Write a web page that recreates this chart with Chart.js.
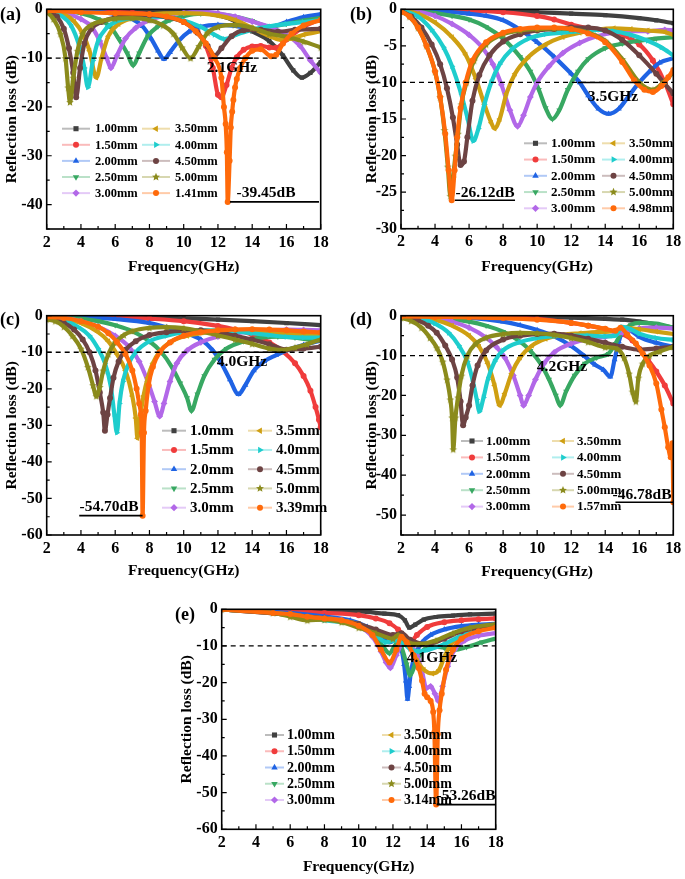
<!DOCTYPE html>
<html>
<head>
<meta charset="utf-8">
<script src="https://cdn.jsdelivr.net/npm/chart.js@4.4.0/dist/chart.umd.min.js"></script>
<style>
body{margin:0;background:#fff;width:685px;height:879px;position:relative;overflow:hidden}
canvas{position:absolute}
</style>
</head>
<body>
<canvas id="pa" width="340" height="290" style="left:0;top:0"></canvas>
<canvas id="pb" width="345" height="290" style="left:340px;top:0"></canvas>
<canvas id="pc" width="340" height="290" style="left:0;top:295px"></canvas>
<canvas id="pd" width="345" height="290" style="left:340px;top:295px"></canvas>
<canvas id="pe" width="345" height="289" style="left:170px;top:590px"></canvas>
<script>
// ---- data (frequency GHz, reflection loss dB) ----
const freqTicks = [2, 4, 6, 8, 10, 12, 14, 16, 18];
const yTicksA = [0, -10, -20, -30, -40];
const yTicksB = [0, -5, -10, -15, -20, -25, -30];
const yTicksC = [0, -10, -20, -30, -40, -50, -60];
const yTicksD = [0, -10, -20, -30, -40, -50];
const yTicksE = [0, -10, -20, -30, -40, -50, -60];

const labelsA = ['1.00mm','1.50mm','2.00mm','2.50mm','3.00mm','3.50mm','4.00mm','4.50mm','5.00mm','1.41mm'];
const labelsB = ['1.00mm','1.50mm','2.00mm','2.50mm','3.00mm','3.50mm','4.00mm','4.50mm','5.00mm','4.98mm'];
const labelsC = ['1.0mm','1.5mm','2.0mm','2.5mm','3.0mm','3.5mm','4.0mm','4.5mm','5.0mm','3.39mm'];
const labelsD = ['1.00mm','1.50mm','2.00mm','2.50mm','3.00mm','3.50mm','4.00mm','4.50mm','5.00mm','1.57mm'];
const labelsE = ['1.00mm','1.50mm','2.00mm','2.50mm','3.00mm','3.50mm','4.00mm','4.50mm','5.00mm','3.14mm'];

// panel (a)
const a100 = [[2,0],[4,-0.1],[6,-0.1],[8,-0.2],[10,-0.5],[11,-0.8],[12,-1.2],[13,-2.4],[14,-4.5],[15,-6.5],[15.8,-9.5],[16.4,-12.5],[16.9,-14],[17.4,-13],[18,-10.8]];
const a150 = [[2,0],[4,-0.2],[6,-0.5],[7,-0.7],[8,-1],[9,-1.5],[10,-2.6],[10.8,-4.5],[11.3,-7.5],[11.7,-12],[12,-17.5],[12.2,-18],[12.5,-15.5],[12.8,-12],[13.1,-9.8],[13.5,-8.3],[14,-7.6],[14.5,-7.5],[15,-7.8],[15.4,-7.9],[16,-6.2],[17,-3.6],[18,-2]];
const a200 = [[2,0],[4,-0.3],[5,-0.5],[6,-1],[7,-2],[7.6,-3.5],[8.1,-6],[8.5,-8.5],[8.85,-10.2],[9.2,-8.8],[9.7,-6.5],[10.3,-4.6],[11,-3.6],[12,-3.2],[13,-3.4],[14,-4],[15,-3.8],[16,-2.6],[17,-1.6],[18,-1]];
const a250 = [[2,-0.1],[3,-0.3],[4,-0.8],[5,-2],[5.7,-3.5],[6.2,-6],[6.7,-9],[7.05,-11.5],[7.4,-9],[7.9,-5.5],[8.5,-3.5],[9.2,-2.2],[10,-1.4],[11,-0.9],[12,-1],[13,-1.5],[14,-2.4],[15,-3.5],[16,-3],[17,-2.3],[18,-1.8]];
const a300 = [[2,-0.1],[3,-0.6],[4,-2],[4.6,-3.5],[5.1,-6.5],[5.5,-10],[5.75,-12],[6.1,-9.5],[6.6,-6],[7.2,-3.8],[8,-2.2],[9,-1.2],[10,-0.7],[11,-0.5],[12,-0.8],[13,-1.5],[14,-2.5],[15,-3.6],[16,-5.2],[16.8,-7.5],[17.4,-10.5],[18,-13]];
const a350 = [[2,-0.2],[3,-1],[3.6,-2.5],[4.1,-5],[4.5,-8.5],[4.9,-14],[5.2,-10],[5.6,-5.5],[6.2,-3],[7,-1.8],[8,-1.1],[10,-0.8],[12,-1.3],[13,-2.2],[14,-3.8],[15,-5.5],[15.6,-6.2],[16.3,-6],[17,-5.2],[18,-4.5]];
const a400 = [[2,-0.2],[2.8,-1.2],[3.4,-3.2],[3.9,-7.5],[4.2,-12],[4.4,-16],[4.7,-10.5],[5,-6.5],[5.5,-3.8],[6,-2.6],[7,-1.8],[8,-1.5],[9,-1.6],[10,-2.3],[11,-3.6],[11.8,-5.2],[12.4,-6.1],[13,-5.3],[14,-4.2],[15,-3.5],[16,-3],[17,-2.6],[18,-2.2]];
const a450 = [[2,-0.3],[2.6,-1.5],[3,-4],[3.3,-8],[3.55,-13],[3.72,-18],[3.95,-12],[4.2,-7],[4.6,-4],[5.2,-2.6],[6,-1.7],[7,-1.3],[8,-1.2],[9,-1.6],[10,-2.6],[10.8,-4.8],[11.4,-7.5],[11.8,-9.5],[12.2,-8],[12.8,-5.5],[13.5,-4.3],[14.5,-4.2],[15.5,-4.6],[16.5,-4.2],[18,-4]];
const a500 = [[2,-0.5],[2.4,-2],[2.8,-5],[3.1,-10],[3.25,-16],[3.36,-19],[3.55,-14],[3.8,-8.5],[4.1,-5],[4.6,-3.2],[5.2,-2.4],[6,-1.9],[7,-1.8],[8,-2.2],[8.8,-3.3],[9.4,-5],[9.9,-7.8],[10.4,-10],[10.9,-7.5],[11.4,-4.8],[12,-3.6],[13,-3.2],[14,-3.8],[15,-5],[16,-5.6],[17,-6.6],[18,-7.8]];
const a141 = [[2,-0.3],[4,-0.6],[6,-0.8],[8,-1],[9,-1.5],[10,-2.6],[10.7,-4.5],[11.3,-7],[11.8,-10],[12.2,-14],[12.35,-20],[12.45,-23.5],[12.52,-29.3],[12.57,-39.45],[12.68,-31],[12.75,-24.2],[12.83,-21],[12.9,-18.6],[13,-16],[13.1,-14.3],[13.3,-12],[13.6,-10],[14,-8.5],[14.5,-8.2],[15.1,-9.6],[15.4,-9.3],[15.8,-7],[16.3,-5],[17,-3.3],[18,-2.2]];

// panel (b)
const b100 = [[2,0],[6,-0.1],[8,-0.2],[10,-0.4],[12,-0.6],[14,-0.8],[16,-1.2],[17,-1.5],[18,-1.9]];
const b150 = [[2,0],[6,-0.2],[8,-0.4],[10,-0.9],[11,-1.4],[12,-2.1],[13,-2.6],[14,-2.9],[15,-3.5],[16,-4.8],[16.8,-7],[17.5,-10],[18,-13]];
const b200 = [[2,0],[4,-0.2],[6,-0.6],[7,-0.9],[8,-1.5],[9,-2.8],[10,-4.5],[11,-6.5],[12,-8.8],[12.5,-10],[13,-11.8],[13.6,-13.6],[14.2,-14.3],[14.8,-13.6],[15.4,-11.8],[16,-10],[16.6,-8.5],[17.2,-7.3],[18,-6.7]];
const b250 = [[2,0],[4,-0.5],[5,-0.9],[6,-1.4],[7,-2.4],[8,-4],[9,-6.5],[9.6,-8.5],[10.1,-11],[10.5,-13.5],[10.9,-15],[11.3,-13.8],[11.8,-11],[12.4,-8.5],[13,-6.8],[14,-5.3],[15,-4.7],[16,-4.3],[17,-4],[18,-3.8]];
const b300 = [[2,0],[3,-0.3],[4,-0.9],[5,-2],[6,-3.5],[6.8,-5.3],[7.4,-7.5],[7.9,-10.3],[8.4,-13.8],[8.85,-16],[9.2,-14.5],[9.6,-12],[10,-10],[10.7,-7.8],[11.5,-6],[12.5,-4.6],[13.5,-3.7],[14.5,-3.2],[15.5,-3],[16.5,-3],[17.5,-2.8],[18,-2.9]];
const b350 = [[2,0],[3,-0.6],[4,-1.8],[5,-3.8],[5.8,-6.2],[6.4,-9.5],[6.9,-13],[7.3,-15.5],[7.5,-16.3],[7.8,-15],[8.2,-11.5],[8.7,-8.8],[9.5,-6.5],[10.5,-4.8],[11.5,-3.8],[12.5,-3.2],[13.5,-2.8],[14.5,-2.6],[15.5,-2.7],[16.5,-2.9],[17.5,-3.1],[18,-3.5]];
const b400 = [[2,-0.1],[3,-1],[3.8,-2.8],[4.5,-5.2],[5,-7.8],[5.5,-11.3],[5.9,-14.8],[6.25,-18],[6.55,-16.3],[6.9,-13],[7.3,-10],[7.8,-7.5],[8.5,-5.5],[9.5,-4],[10.5,-3.4],[11.5,-3.2],[12.5,-3],[13.5,-2.8],[14.5,-3],[15.5,-3.5],[16.5,-4.3],[17.3,-5.2],[18,-6.3]];
const b450 = [[2,-0.2],[2.6,-1],[3.2,-2.5],[3.8,-4.8],[4.3,-7.5],[4.7,-10.8],[5.05,-14.8],[5.3,-18.5],[5.5,-21.3],[5.7,-20.8],[5.9,-17.5],[6.2,-12.5],[6.6,-9],[7.2,-6.3],[8,-4.4],[9,-3.4],[10,-2.9],[11,-2.7],[12,-2.5],[13,-2.5],[14,-2.9],[15,-4.2],[16,-6.3],[17,-8.8],[17.5,-10.2],[18,-11.5]];
const b500 = [[2,-0.3],[2.5,-1],[3,-2.5],[3.5,-5],[4,-8.5],[4.3,-12],[4.55,-16.5],[4.75,-21.5],[4.9,-25.5],[5.05,-23],[5.2,-20],[5.35,-17],[5.55,-13],[5.85,-10],[6.3,-7],[7,-4.8],[8,-3.4],[9,-2.9],[10,-2.7],[11,-2.6],[12,-2.7],[13,-3.2],[14,-4.3],[15,-6.8],[16,-10],[16.8,-11],[17.5,-9.8],[18,-8.6]];
const b498 = [[2,-0.3],[2.5,-1],[3,-2.5],[3.5,-5],[4,-8.5],[4.3,-12],[4.6,-17],[4.8,-22],[4.98,-26.12],[5.15,-22],[5.3,-17.5],[5.5,-13.5],[5.8,-10],[6.2,-7],[7,-4.5],[8,-3.2],[9,-2.7],[10,-2.5],[11,-2.5],[12,-2.7],[13,-3.3],[14,-4.5],[15,-7.2],[15.7,-9.7],[16.3,-11],[16.8,-11.3],[17.3,-10.5],[17.7,-9.3],[18,-8.3]];

// panel (c)
const c100 = [[2,0],[6,-0.2],[8,-0.4],[10,-0.7],[12,-1.1],[14,-1.5],[16,-2],[18,-2.6]];
const c150 = [[2,0],[6,-0.3],[8,-0.8],[10,-1.5],[12,-2.8],[13,-3.8],[14,-5.2],[15,-7.3],[15.8,-9.8],[16.5,-13],[17,-16.5],[17.4,-20.5],[17.7,-25],[17.9,-28.5],[18,-30.5]];
const c200 = [[2,0],[4,-0.3],[6,-0.9],[8,-2],[9,-3.2],[10,-4.6],[11,-6.5],[11.7,-9.5],[12.2,-13],[12.7,-17.5],[13.2,-21.5],[13.6,-19],[14.1,-15],[14.7,-12.5],[15.4,-10.8],[16,-9.5],[17,-8],[18,-6.8]];
const c250 = [[2,0],[3,-0.3],[4,-0.8],[5,-1.5],[6,-2.6],[7,-4.2],[8,-7],[8.7,-10],[9.3,-14],[9.8,-18.5],[10.2,-22.5],[10.45,-26],[10.8,-21.5],[11.2,-16.5],[11.8,-12],[12.5,-9],[13.5,-7],[14.5,-6],[15.5,-5.7],[16.5,-6],[17.3,-6.5],[18,-6.5]];
const c300 = [[2,-0.1],[3,-0.5],[4,-1.5],[5,-3],[6,-5.5],[6.8,-8.5],[7.4,-12.5],[7.9,-18],[8.3,-23.5],[8.6,-27.5],[8.85,-24],[9.2,-18],[9.6,-13],[10.2,-9.5],[11,-7.3],[12,-5.7],[13,-4.8],[14,-4.3],[15,-4],[16,-3.8],[17,-3.9],[18,-4]];
const c350 = [[2,-0.3],[3,-0.8],[4,-2],[5,-4.5],[5.6,-7],[6.1,-10.5],[6.6,-15],[7,-22],[7.2,-28],[7.3,-33.5],[7.45,-28],[7.65,-22],[7.9,-17],[8.2,-13],[8.6,-9.8],[9.3,-7],[10.2,-5.5],[11.5,-4.5],[13,-4.1],[14,-4.3],[15,-4.8],[16,-5],[17,-5],[18,-5]];
const c400 = [[2,-0.5],[3,-1.2],[3.8,-3],[4.5,-5.5],[5,-9],[5.4,-13],[5.75,-19.5],[5.95,-27],[6.1,-32],[6.25,-24],[6.45,-18],[6.8,-13],[7.2,-10],[8,-7],[9,-5.5],[10,-4.5],[11,-4],[12,-4],[13,-4.3],[14,-4.8],[15,-5.3],[16,-5.8],[17,-6],[18,-6]];
const c450 = [[2,-0.8],[3,-2],[3.6,-3.8],[4.1,-6.5],[4.5,-10],[4.85,-15],[5.1,-21],[5.3,-26.5],[5.4,-31.5],[5.55,-27],[5.7,-22.5],[5.9,-17],[6.2,-12.5],[6.6,-9.3],[7.2,-7],[8,-5.3],[9,-4.5],[10,-4.1],[11,-4],[12,-4.5],[13,-5.5],[14,-6.5],[15,-7.8],[16,-9.3],[17,-9],[18,-8.5]];
const c500 = [[2,-1],[2.5,-1.5],[3,-3],[3.5,-5.5],[4,-9],[4.4,-14],[4.7,-19],[4.9,-22],[5.1,-19.5],[5.3,-15],[5.6,-10.5],[6,-7.3],[6.5,-5.3],[7,-4.2],[8,-3.3],[9,-3.1],[10,-3.4],[11,-4.3],[12,-5.4],[13,-6.5],[14,-7.7],[15,-9],[15.7,-9.4],[16.5,-8.7],[17.2,-7.8],[18,-6.5]];
const c339 = [[2,-0.3],[3,-0.6],[4,-1.5],[5,-3],[5.6,-4.8],[6.1,-7.2],[6.6,-10.5],[7,-15],[7.25,-20],[7.4,-24],[7.5,-27],[7.55,-32],[7.6,-54.7],[7.68,-32],[7.78,-26],[7.95,-19],[8.2,-14],[8.6,-10],[9.2,-7.3],[10,-5.5],[11,-4.5],[12,-4],[13,-3.8],[14,-3.7],[15,-3.8],[16,-4],[17,-4.3],[18,-4.6]];

// panel (d)
const d100 = [[2,0],[6,-0.1],[8,-0.2],[10,-0.3],[12,-0.5],[14,-0.8],[15,-1],[16,-1.5],[17,-2.2],[18,-3]];
const d150 = [[2,0],[8,-0.3],[10,-0.8],[12,-1.8],[13,-2.5],[14,-3.4],[15,-4.6],[15.6,-6.2],[16,-8.3],[16.5,-11],[17,-14],[17.5,-17.5],[18,-22]];
const d200 = [[2,0],[6,-0.5],[8,-1.5],[9,-2.4],[10,-3.6],[11,-5.2],[12,-7.6],[12.8,-10.2],[13.4,-12.3],[13.9,-13.6],[14.3,-15.3],[14.55,-11],[14.8,-6.5],[15.1,-3.5],[15.5,-3.8],[16,-5.3],[17,-6.8],[18,-7.8]];
const d250 = [[2,0],[4,-0.5],[6,-1.5],[7,-2.5],[8,-4],[9,-6.5],[9.6,-8.8],[10.2,-12],[10.7,-16],[11.1,-20],[11.35,-22.5],[11.7,-19],[12.2,-15],[12.8,-12],[13.5,-10.5],[14.2,-9.5],[14.6,-7],[15,-4],[15.5,-2.3],[16,-1.8],[17,-2],[18,-3]];
const d300 = [[2,0],[4,-0.5],[5,-1.5],[6,-3],[7,-5.5],[7.6,-7.8],[8.1,-10.5],[8.6,-15],[9,-20],[9.2,-22.5],[9.5,-20],[9.9,-16],[10.4,-12],[11,-9.2],[12,-7],[13,-5.8],[14,-5.3],[15,-4.2],[16,-3.2],[17,-3],[18,-3.2]];
const d350 = [[2,0],[3,-0.3],[4,-1],[5,-2.5],[6,-5],[6.6,-7.8],[7.1,-12],[7.5,-17.5],[7.8,-22.5],[8.1,-19.5],[8.5,-14.5],[9,-10.5],[9.7,-7.5],[10.5,-5.8],[11.5,-4.8],[12.5,-4.4],[13.5,-4.1],[14.5,-3.8],[15,-3],[16,-3.4],[17,-4],[18,-4.6]];
const d400 = [[2,-0.2],[3,-0.6],[4,-2],[4.8,-4.3],[5.4,-7.5],[5.9,-11.5],[6.2,-16],[6.45,-21],[6.6,-24],[6.85,-20.5],[7.1,-16],[7.5,-11.5],[8,-8.7],[9,-6.6],[10,-5.6],[11,-5.1],[12,-5],[13,-5],[14,-5.2],[14.6,-5],[15,-2.8],[15.5,-3.4],[16,-4.5],[17,-5.6],[18,-6.1]];
const d450 = [[2,-0.3],[3,-1.2],[3.6,-2.5],[4.1,-4.3],[4.6,-7.5],[5,-11],[5.3,-15.5],[5.5,-21.5],[5.65,-27.5],[5.8,-25.5],[6,-22.5],[6.2,-17.5],[6.5,-12.5],[7,-8.7],[8,-6],[9,-5],[10,-4.6],[11,-4.5],[12,-5],[13,-5.8],[14,-6.8],[15,-7.8],[16,-8.5],[17,-8.2],[18,-7.8]];
const d500 = [[2,-0.5],[2.6,-1.3],[3.2,-3],[3.7,-5.5],[4.1,-8],[4.45,-11.5],[4.7,-16],[4.9,-21],[5,-25.5],[5.07,-33.5],[5.2,-25.5],[5.35,-20.5],[5.55,-15],[5.9,-10],[6.4,-7],[7,-5.5],[8,-4.6],[9,-4.3],[10,-4.4],[11,-4.8],[12,-5.6],[13,-6.6],[14,-7.9],[14.7,-8.3],[15.1,-10.5],[15.4,-14.5],[15.6,-19],[15.8,-21.5],[15.95,-15.5],[16.2,-12],[16.6,-10],[17.2,-9],[18,-7.8]];
const d157 = [[2,-0.2],[4,-0.3],[6,-0.4],[8,-0.6],[10,-1],[12,-1.8],[13,-2.5],[14,-3.3],[14.6,-3.8],[14.9,-3],[15.3,-4.8],[15.8,-7],[16.2,-9.5],[16.6,-12.5],[17,-17],[17.3,-23.5],[17.5,-28],[17.7,-33],[17.85,-35.5],[17.95,-32],[18,-46.78]];

// panel (e)
const e100 = [[2,0],[6,-0.2],[9,-0.4],[10.5,-0.7],[11.5,-1.2],[12.3,-1.6],[12.7,-3],[12.95,-5],[13.3,-4.2],[13.8,-2.8],[14.5,-2.1],[15.5,-1.7],[16.5,-1.4],[18,-1.2]];
const e150 = [[2,0],[6,-0.5],[8,-1],[10,-1.6],[11,-2.5],[11.8,-3.8],[12.3,-5.5],[12.7,-7.5],[13,-9],[13.4,-7],[14,-4.8],[15,-3.5],[16,-3],[17,-2.7],[18,-2.5]];
const e200 = [[2,0],[6,-1],[8,-2],[9.5,-3],[10.5,-4.8],[11.3,-7.5],[11.8,-9],[12.2,-8.3],[12.5,-11],[12.65,-15],[12.75,-19.5],[12.85,-24.5],[12.95,-21],[13.05,-17],[13.3,-12.5],[13.7,-9],[14.2,-7],[15,-5.5],[16,-4.6],[17,-4.2],[18,-4]];
const e250 = [[2,0],[4,-0.5],[5,-1],[6,-1.5],[7,-2.5],[8,-2.5],[9,-3],[10,-4.5],[10.8,-7],[11.4,-10],[11.8,-12],[12.2,-9.5],[12.5,-10.5],[12.8,-15],[13,-18],[13.3,-15],[13.7,-11.5],[14.3,-10.2],[15,-10.5],[15.6,-11],[16.3,-10.3],[17.2,-9],[18,-8]];
const e300 = [[2,0],[6,-1.5],[8,-2.5],[9,-3],[10,-4.5],[10.8,-7.5],[11.3,-11.5],[11.6,-14.5],[11.85,-16],[12.2,-12.5],[12.6,-9],[13,-9.5],[13.4,-12.5],[13.7,-17],[13.95,-21.5],[14.2,-21],[14.45,-23],[14.65,-25],[14.9,-21],[15.2,-15.5],[15.6,-11],[16.2,-8.5],[17,-7.2],[18,-6.5]];
const e350 = [[2,0],[6,-1.5],[8,-2.5],[10,-4],[11,-6],[12,-8],[12.5,-7.2],[13,-10],[13.4,-14],[13.8,-16.5],[14.3,-17.5],[14.7,-16.5],[15,-13],[15.4,-9.5],[16,-7],[17,-5.2],[18,-4.5]];
const e400 = [[2,0],[6,-1.5],[8,-3],[9,-3.5],[10,-4.5],[11,-7],[11.6,-9],[12.1,-8.5],[12.6,-9.2],[13,-10.8],[13.5,-11.5],[14.1,-11],[15,-9.5],[16,-7.2],[17,-5.6],[18,-5]];
const e450 = [[2,0],[6,-1.5],[8,-2.5],[10,-4],[11,-5.5],[12,-7],[12.5,-6.5],[13,-8.3],[14,-9.5],[15,-8],[16,-6],[17,-5],[18,-4.5]];
const e500 = [[2,0],[5,-1],[6,-2],[7,-3],[8,-2.8],[9,-3.5],[10,-5],[11,-6.5],[12,-8],[12.3,-7],[12.8,-8.8],[13.5,-9.5],[14.5,-8.5],[15.5,-6.5],[16.5,-5],[18,-4]];
const e314 = [[2,0],[5,-1],[6,-1.3],[7,-2],[8,-2.5],[9,-3],[10,-4.5],[10.8,-7],[11.3,-11],[11.8,-14.5],[12.2,-11],[12.5,-7.5],[12.8,-9],[13.2,-12.5],[13.5,-16],[13.7,-19.5],[13.85,-23],[14,-24],[14.2,-25],[14.35,-28],[14.42,-33.5],[14.52,-53.26],[14.62,-34],[14.72,-27.5],[14.85,-23],[15.1,-16.5],[15.5,-11],[16,-8],[17,-6],[18,-5]];

// bandwidth segments at -10 dB and peak markers [x1, x2, dB]
const bandA = [11.63, 14.04], peakA = [12.7, 17.9, -39.45];
const bandB = [12.4, 16.1],  peakB = [5.17, 8.7, -26.12];
const bandC = [11.7, 15.8],  peakC = [3.9, 7.6, -54.7];
const bandD = [9.9, 14.2],   peakD = [14.6, 18, -46.78];
const bandE = [11.0, 16.1],  peakE = [14.55, 18, -53.26];

// ---- styles ----
const colors = ['#404040','#f03c3c','#1f63e4','#38a862','#b268e8','#cf9f12','#1ecdcd','#6d4343','#8b8b1c','#ff6a0a'];
const shapes = ['rect','circle','tri','tri','diamond','tri','tri','circle','star','circle'];
const rots = [0,0,0,180,0,270,90,0,0,0];
const FONT = '"Liberation Serif", "Times New Roman", serif';

function starPath(ctx, x, y, r) {
  ctx.beginPath();
  for (let i = 0; i < 10; i++) {
    const rr = i % 2 ? r * 0.45 : r;
    const ang = -Math.PI / 2 + i * Math.PI / 5;
    ctx.lineTo(x + rr * Math.cos(ang), y + rr * Math.sin(ang));
  }
  ctx.closePath();
}
function starImage(color, r) {
  const c = document.createElement('canvas');
  c.width = c.height = Math.ceil(r * 2 + 2);
  const g = c.getContext('2d');
  g.fillStyle = color;
  starPath(g, c.width / 2, c.height / 2 + 0.4, r);
  g.fill();
  return c;
}
const starImg = starImage(colors[8], 4);

function drawMarker(ctx, i, x, y, r) {
  ctx.fillStyle = colors[i];
  const s = shapes[i];
  ctx.beginPath();
  if (s === 'rect') ctx.rect(x - r * 0.85, y - r * 0.85, r * 1.7, r * 1.7);
  else if (s === 'circle') ctx.arc(x, y, r, 0, Math.PI * 2);
  else if (s === 'diamond') { ctx.moveTo(x, y - r * 1.2); ctx.lineTo(x + r * 1.2, y); ctx.lineTo(x, y + r * 1.2); ctx.lineTo(x - r * 1.2, y); ctx.closePath(); }
  else if (s === 'tri') {
    const a = rots[i] * Math.PI / 180;
    for (let k = 0; k < 3; k++) {
      const ang = a - Math.PI / 2 + k * 2 * Math.PI / 3;
      ctx.lineTo(x + r * 1.25 * Math.cos(ang), y + r * 1.25 * Math.sin(ang));
    }
    ctx.closePath();
  } else if (s === 'star') starPath(ctx, x, y, r * 1.4);
  ctx.fill();
}

function hexA(c, a) {
  const n = parseInt(c.slice(1), 16);
  return 'rgba(' + (n >> 16) + ',' + ((n >> 8) & 255) + ',' + (n & 255) + ',' + a + ')';
}

const deco = {
  id: 'deco',
  afterDatasetsDraw(chart, args, o) {
    const ctx = chart.ctx, a = chart.chartArea, xs = chart.scales.x, ys = chart.scales.y;
    ctx.save();
    ctx.strokeStyle = '#000';
    ctx.fillStyle = '#000';
    // -10 dB reference
    const y10 = ys.getPixelForValue(-10);
    ctx.lineWidth = 1.3;
    ctx.setLineDash([5, 4]);
    ctx.beginPath(); ctx.moveTo(a.left, y10); ctx.lineTo(a.right, y10); ctx.stroke();
    ctx.setLineDash([]);
    ctx.lineWidth = 1.6;
    ctx.beginPath(); ctx.moveTo(xs.getPixelForValue(o.band[0]), y10); ctx.lineTo(xs.getPixelForValue(o.band[1]), y10); ctx.stroke();
    const yp = ys.getPixelForValue(o.peak[2]);
    ctx.beginPath(); ctx.moveTo(xs.getPixelForValue(o.peak[0]), yp); ctx.lineTo(xs.getPixelForValue(o.peak[1]), yp); ctx.stroke();
    ctx.font = 'bold 15.5px ' + FONT;
    ctx.textAlign = 'center'; ctx.textBaseline = 'middle';
    ctx.fillText(o.bandText, o.bandPos[0], o.bandPos[1]);
    ctx.fillText(o.peakText, o.peakPos[0], o.peakPos[1]);
    // inward ticks on left and bottom
    ctx.lineWidth = 1.2;
    ctx.beginPath();
    for (let v = 2; v <= 18; v += 1) {
      const px = xs.getPixelForValue(v), len = v % 2 === 0 ? 5 : 3;
      ctx.moveTo(px, a.bottom); ctx.lineTo(px, a.bottom - len);
    }
    const t = o.yTicks, step = (t[0] - t[1]) / 2;
    for (let v = 0; v >= ys.min - 1e-6; v -= step) {
      const py = ys.getPixelForValue(v);
      const major = t.some(q => Math.abs(q - v) < 1e-6);
      ctx.moveTo(a.left, py); ctx.lineTo(a.left + (major ? 5 : 3), py);
    }
    ctx.stroke();
    // frame
    ctx.lineWidth = 1.6;
    ctx.strokeRect(a.left, a.top, a.right - a.left, a.bottom - a.top);
    // panel tag
    ctx.font = 'bold 18px ' + FONT;
    ctx.textAlign = 'left';
    ctx.fillText(o.tag, o.tagPos[0], o.tagPos[1]);
    // legend, two columns
    const L = o.legend;
    ctx.font = 'bold ' + L.font + 'px ' + FONT;
    chart.data.datasets.forEach((ds, i) => {
      const col = i < 5 ? 0 : 1, row = i % 5;
      const x0 = col ? L.x2 : L.x1, y = L.y0 + row * L.dy;
      ctx.strokeStyle = hexA(colors[i], 0.35);
      ctx.lineWidth = 2;
      ctx.beginPath(); ctx.moveTo(x0, y); ctx.lineTo(x0 + L.len, y); ctx.stroke();
      drawMarker(ctx, i, x0 + L.len / 2, y, 3);
      ctx.fillStyle = '#000';
      ctx.textBaseline = 'middle';
      ctx.fillText(ds.label, x0 + L.len + L.gap, y + 0.5);
    });
    ctx.restore();
  }
};

function makePanel(id, series, labels, yMin, yTicks, p) {
  const datasets = series.map((s, i) => ({
    label: labels[i],
    data: s.map(q => ({ x: q[0], y: q[1] })),
    borderColor: colors[i],
    backgroundColor: colors[i],
    borderWidth: 4.2,
    pointRadius: shapes[i] === 'tri' || shapes[i] === 'diamond' ? 3.4 : 3,
    pointBorderWidth: 0,
    pointHoverRadius: 0,
    pointStyle: shapes[i] === 'star' ? starImg : shapes[i] === 'tri' ? 'triangle' : shapes[i] === 'diamond' ? 'rectRot' : shapes[i],
    pointRotation: rots[i],
    cubicInterpolationMode: 'monotone',
    fill: false,
    order: series.length - 1 - i
  }));
  const fit = (w, h) => s => {
    if (w !== null) s.width = w;
    if (h !== null) s.height = h;
    s.paddingTop = 0; s.paddingBottom = 0; s.paddingLeft = 0; s.paddingRight = 0;
  };
  new Chart(document.getElementById(id), {
    type: 'line',
    data: { datasets },
    options: {
      responsive: false,
      animation: false,
      events: [],
      layout: { padding: { left: 0, top: p.top, right: p.right, bottom: 0 } },
      plugins: {
        legend: { display: false },
        tooltip: { enabled: false },
        deco: Object.assign({ yTicks }, p.deco)
      },
      scales: {
        x: {
          type: 'linear', min: 2, max: 18,
          afterBuildTicks: s => { s.ticks = freqTicks.map(v => ({ value: v })); },
          afterFit: fit(null, p.xh),
          grid: { display: false, drawTicks: false },
          border: { display: false },
          ticks: { color: '#000', padding: 4, font: { family: FONT, size: 16, weight: 'bold' } },
          title: { display: true, text: 'Frequency(GHz)', color: '#000', padding: { top: 0, bottom: p.xtb }, font: { family: FONT, size: 15.5, weight: 'bold' } }
        },
        y: {
          type: 'linear', min: yMin, max: 0,
          afterBuildTicks: s => { s.ticks = yTicks.map(v => ({ value: v })); },
          afterFit: fit(p.yw, null),
          grid: { display: false, drawTicks: false },
          border: { display: false },
          ticks: { color: '#000', padding: 4, font: { family: FONT, size: 16, weight: 'bold' }, callback: v => String(v) },
          title: { display: true, text: 'Reflection loss (dB)', color: '#000', padding: { top: p.ytp, bottom: 0 }, font: { family: FONT, size: 15.5, weight: 'bold' } }
        }
      }
    },
    plugins: [deco]
  });
}

makePanel('pa', [a100,a150,a200,a250,a300,a350,a400,a450,a500,a141], labelsA, -45, yTicksA, {
  top: 9.3, right: 19.3, yw: 46.7, xh: 61, xtb: 13.7, ytp: 2.4,
  deco: { band: bandA, peak: peakA, bandText: '2.1GHz', bandPos: [232, 68], peakText: '-39.45dB', peakPos: [266, 193],
    tag: '(a)', tagPos: [0, 15], legend: { x1: 62, x2: 142, y0: 128.7, dy: 16.1, len: 28, gap: 5, font: 12.5 } }
});
makePanel('pb', [b100,b150,b200,b250,b300,b350,b400,b450,b500,b498], labelsB, -30, yTicksB, {
  top: 9.3, right: 11.7, yw: 61, xh: 61.3, xtb: 13.7, ytp: 22.4,
  deco: { band: bandB, peak: peakB, bandText: '3.5GHz', bandPos: [273, 97], peakText: '-26.12dB', peakPos: [145, 193],
    tag: '(b)', tagPos: [10, 15], legend: { x1: 184, x2: 262, y0: 143.3, dy: 16.25, len: 23, gap: 4, font: 13 } }
});
makePanel('pc', [c100,c150,c200,c250,c300,c350,c400,c450,c500,c339], labelsC, -60, yTicksC, {
  top: 20.7, right: 19.3, yw: 46.7, xh: 50, xtb: 4.4, ytp: 2.4,
  deco: { band: bandC, peak: peakC, bandText: '4.0GHz', bandPos: [242, 67], peakText: '-54.70dB', peakPos: [109, 212],
    tag: '(c)', tagPos: [0, 25], legend: { x1: 162, x2: 248, y0: 135.7, dy: 19.25, len: 24, gap: 4, font: 15 } }
});
makePanel('pd', [d100,d150,d200,d250,d300,d350,d400,d450,d500,d157], labelsD, -55, yTicksD, {
  top: 20.7, right: 11.7, yw: 61, xh: 50, xtb: 3.7, ytp: 22.4,
  deco: { band: bandD, peak: peakD, bandText: '4.2GHz', bandPos: [222, 72], peakText: '-46.78dB', peakPos: [302, 200],
    tag: '(d)', tagPos: [10, 25], legend: { x1: 121, x2: 212, y0: 146, dy: 16.4, len: 22, gap: 3, font: 13 } }
});
makePanel('pe', [e100,e150,e200,e250,e300,e350,e400,e450,e500,e314], labelsE, -60, yTicksE, {
  top: 19.3, right: 19.3, yw: 51.7, xh: 49.7, xtb: 2.7, ytp: 7.4,
  deco: { band: bandE, peak: peakE, bandText: '4.1GHz', bandPos: [262, 68], peakText: '-53.26dB', peakPos: [296, 206],
    tag: '(e)', tagPos: [5, 25], legend: { x1: 95, x2: 212, y0: 145, dy: 16.25, len: 19, gap: 3, font: 14 } }
});
</script>
</body>
</html>
